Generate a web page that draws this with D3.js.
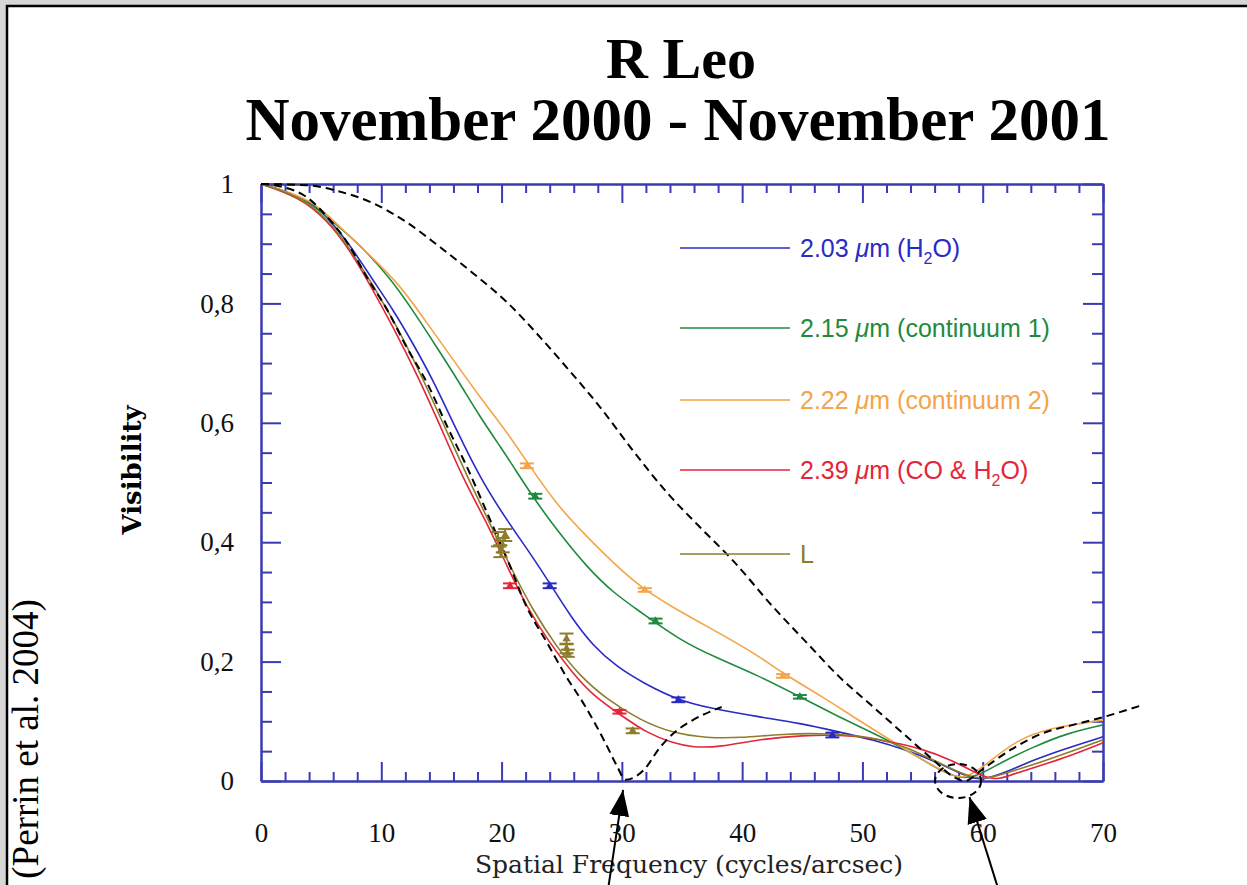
<html>
<head>
<meta charset="utf-8">
<title>R Leo</title>
<style>
body { margin: 0; background: #fff; }
</style>
</head>
<body>
<svg width="1247" height="885"></svg>
<script src="https://d3js.org/d3.v7.min.js" charset="utf-8"></script>
<script>

// ---- data ----
var xTicks = [0, 10, 20, 30, 40, 50, 60, 70];
var yTicks = [0, 0.2, 0.4, 0.6, 0.8, 1];
var yTickLabels = ["0", "0,2", "0,4", "0,6", "0,8", "1"];

var seriesKeys = ["h2o", "cont1", "cont2", "co", "L"];
var seriesLabels = [
    [["2.03 ", ""], ["\u03bc", "i"], ["m (H", ""], ["2", "sub"], ["O)", "up"]],
    [["2.15 ", ""], ["\u03bc", "i"], ["m (continuum 1)", ""]],
    [["2.22 ", ""], ["\u03bc", "i"], ["m (continuum 2)", ""]],
    [["2.39 ", ""], ["\u03bc", "i"], ["m (CO & H", ""], ["2", "sub"], ["O)", "up"]],
    [["L", ""]]
];
var seriesColors = ["#2a2ac4", "#1f8a3e", "#f4a449", "#e3263a", "#8d7d2a"];

// model curves: [spatial frequency, visibility]
var curveH2O = [[0,1],[3.8,0.977],[5.6,0.943],[7.4,0.898],[9.3,0.839],[11,0.789],[12.6,0.734],[14.3,0.672],[16.2,0.59],[18.3,0.504],[20.5,0.435],[22.6,0.375],[24.2,0.325],[25.7,0.277],[27.6,0.226],[29.6,0.191],[31.8,0.164],[34.6,0.136],[37.3,0.122],[41.5,0.107],[44.8,0.097],[48.1,0.082],[50.9,0.069],[53.7,0.052],[56.4,0.03],[58.7,0.007],[59.8,0.002],[60.8,0.007],[62.3,0.018],[64.2,0.035],[67,0.055],[70,0.074]];
var curveCont1 = [[0,1],[3.2,0.982],[5.5,0.945],[8,0.903],[10.7,0.844],[12.6,0.789],[14.6,0.727],[16.5,0.667],[18.2,0.61],[20.1,0.554],[21,0.526],[22.6,0.476],[24.6,0.42],[27.1,0.358],[29.3,0.315],[31.5,0.284],[34.8,0.236],[37.9,0.206],[41.2,0.178],[44.8,0.141],[48.1,0.107],[50.9,0.08],[53.7,0.052],[56.4,0.018],[58.1,0.004],[59.5,0.007],[61.4,0.03],[64.2,0.057],[67,0.08],[70,0.094]];
var curveCont2 = [[0,1],[3.8,0.977],[5.5,0.95],[7.4,0.911],[11.3,0.839],[13.8,0.767],[16,0.705],[18.2,0.643],[20.5,0.583],[22.1,0.535],[24.6,0.462],[27.1,0.409],[29.3,0.365],[31.5,0.325],[34.8,0.284],[37.9,0.25],[41.2,0.212],[43.4,0.18],[46.7,0.141],[49.5,0.104],[52.3,0.069],[55,0.035],[57,0.013],[58.4,0.002],[60,0.023],[62.8,0.069],[65.6,0.089],[70,0.102]];
var curveCO = [[0,1],[3.2,0.978],[5.5,0.94],[7.4,0.889],[9.1,0.83],[11,0.76],[13,0.68],[14.9,0.595],[16.8,0.506],[18.8,0.432],[20.5,0.358],[22.1,0.291],[24,0.231],[25.9,0.181],[27.6,0.143],[29.8,0.112],[32.1,0.08],[34.2,0.064],[35.9,0.056],[38.2,0.057],[41.2,0.069],[44.8,0.077],[49.5,0.077],[52.3,0.065],[54.5,0.057],[57.5,0.035],[60,0.007],[61.2,0.002],[62.3,0.01],[64.2,0.022],[67,0.04],[70,0.064]];
var curveL = [[0,1],[3.2,0.98],[5.5,0.942],[7.4,0.893],[11.1,0.772],[13.5,0.672],[15.5,0.583],[17.4,0.499],[19.3,0.42],[21,0.348],[22.6,0.286],[24.6,0.224],[26.5,0.176],[28.8,0.136],[31.5,0.102],[34.2,0.08],[37.1,0.072],[39.8,0.072],[43.4,0.079],[47,0.08],[50.9,0.074],[53.7,0.057],[56.4,0.03],[58.7,0.008],[60.2,0.003],[61.4,0.01],[64.2,0.027],[67,0.047],[70,0.069]];
var modelCurves = [curveH2O, curveCont1, curveCont2, curveCO, curveL];

// measured points: [spatial frequency, visibility, error]
var pointsH2O = [[24, 0.327, 0.004], [34.7, 0.136, 0.004], [47.5, 0.077, 0.004]];
var pointsCont1 = [[22.8, 0.477, 0.004], [32.8, 0.268, 0.004], [44.8, 0.141, 0.003]];
var pointsCont2 = [[22.1, 0.528, 0.004], [31.9, 0.32, 0.003], [43.4, 0.176, 0.003]];
var pointsCO = [[20.7, 0.327, 0.004], [29.8, 0.116, 0.003]];
var pointsL = [[19.7, 0.405, 0.012], [20.1, 0.395, 0.012], [19.9, 0.385, 0.01], [20.3, 0.412, 0.01],
               [25.4, 0.238, 0.009], [25.4, 0.222, 0.008], [25.5, 0.214, 0.006], [30.9, 0.084, 0.004]];
var measuredPoints = [pointsH2O, pointsCont1, pointsCont2, pointsCO, pointsL];

// uniform disk models (dashed)
var diskWide = [[0,1],[3.8,0.998],[6.6,0.987],[9.3,0.968],[12.1,0.936],[14.9,0.894],[17.6,0.851],[20.5,0.801],[23.4,0.739],[25.4,0.693],[28.2,0.626],[30.9,0.554],[33.8,0.482],[36.5,0.425],[39.2,0.37],[42.6,0.291],[45.4,0.231],[48.1,0.174],[50.9,0.124],[53.7,0.074],[55.9,0.035],[57.5,0.008],[58.5,0],[60,0.02],[62.3,0.052],[65,0.08],[67.5,0.094],[70,0.107],[73.1,0.126]];
var diskNarrow = [[0,1],[1.8,0.995],[3.8,0.978],[5.5,0.945],[7.2,0.901],[8.8,0.844],[10.5,0.789],[12.1,0.727],[13.8,0.667],[15.5,0.593],[17.1,0.527],[18.8,0.449],[20.5,0.37],[22.1,0.291],[23.8,0.231],[25.4,0.174],[26.9,0.127],[28.6,0.065],[29.6,0.025],[30.3,0.002],[31.8,0.018],[33.2,0.057],[34.6,0.085],[35.9,0.102],[38.3,0.124]];

// ---- drawing ----
var svg = d3.select('svg');
var x = d3.scaleLinear().domain([0, 70]).range([261, 1103]);
var y = d3.scaleLinear().domain([0, 1]).range([781, 184]);
var axisColor = '#3a3ab4';

// page frame
svg.append('rect').attr('width', 1247).attr('height', 885).attr('fill', '#d6d6d6');
svg.append('rect').attr('x', 7).attr('y', 6).attr('width', 1240).attr('height', 879).attr('fill', '#fff');
svg.append('path').attr('d', 'M7,885V6H1247').attr('fill', 'none').attr('stroke', '#000').attr('stroke-width', 2.5);

// titles
svg.append('text').attr('x', 681).attr('y', 78).attr('text-anchor', 'middle')
    .attr('font-family', 'Liberation Serif').attr('font-weight', 'bold').attr('font-size', 58)
    .text('R Leo');
svg.append('text').attr('x', 678).attr('y', 140).attr('text-anchor', 'middle')
    .attr('font-family', 'Liberation Serif').attr('font-weight', 'bold').attr('font-size', 61)
    .text('November 2000 - November 2001');

// ticks (inward on all four sides)
var xMinor = d3.range(0, 71, 2).filter(function (d) { return d % 10 !== 0; });
var yMinor = d3.range(0, 1.001, 0.05).filter(function (d) { return Math.abs(d * 5 - Math.round(d * 5)) > 1e-6; });

function drawAxis(axis, tx, ty) {
    var g = svg.append('g').attr('transform', 'translate(' + tx + ',' + ty + ')').call(axis);
    g.selectAll('line, path').attr('stroke', axisColor).attr('stroke-width', 2);
    g.selectAll('text').remove();
    return g;
}
drawAxis(d3.axisBottom(x).tickValues(xTicks).tickSize(-19).tickSizeOuter(0), 0, 781);
drawAxis(d3.axisBottom(x).tickValues(xMinor).tickSize(-9).tickSizeOuter(0), 0, 781);
drawAxis(d3.axisTop(x).tickValues(xTicks).tickSize(-19).tickSizeOuter(0), 0, 184);
drawAxis(d3.axisTop(x).tickValues(xMinor).tickSize(-9).tickSizeOuter(0), 0, 184);
drawAxis(d3.axisLeft(y).tickValues(yTicks).tickSize(-20).tickSizeOuter(0), 261, 0);
drawAxis(d3.axisLeft(y).tickValues(yMinor).tickSize(-11).tickSizeOuter(0), 261, 0);
drawAxis(d3.axisRight(y).tickValues(yTicks).tickSize(-20).tickSizeOuter(0), 1103, 0);
drawAxis(d3.axisRight(y).tickValues(yMinor).tickSize(-11).tickSizeOuter(0), 1103, 0);

// tick labels
var xl = svg.append('g').attr('transform', 'translate(0,781)')
    .call(d3.axisBottom(x).tickValues(xTicks).tickSize(0).tickPadding(42).tickFormat(d3.format('d')));
xl.select('.domain').remove();
xl.selectAll('text').attr('font-family', 'Liberation Serif').attr('font-size', 27).attr('fill', '#111');

var yl = svg.append('g').attr('transform', 'translate(261,0)')
    .call(d3.axisLeft(y).tickValues(yTicks).tickSize(0).tickPadding(27)
        .tickFormat(function (d, i) { return yTickLabels[i]; }));
yl.select('.domain').remove();
yl.selectAll('text').attr('font-family', 'Liberation Serif').attr('font-size', 27).attr('fill', '#111');

// axis titles
svg.append('text').attr('x', 689).attr('y', 873).attr('text-anchor', 'middle')
    .attr('font-family', 'DejaVu Serif').attr('font-size', 25).attr('fill', '#222')
    .text('Spatial Frequency (cycles/arcsec)');
svg.append('text').attr('transform', 'translate(141,470) rotate(-90)').attr('text-anchor', 'middle')
    .attr('font-family', 'DejaVu Serif').attr('font-weight', 'bold').attr('font-size', 26)
    .text('Visibility');
svg.append('text').attr('transform', 'translate(38,739) rotate(-90)').attr('text-anchor', 'middle')
    .attr('font-family', 'Liberation Serif').attr('font-size', 37)
    .text('(Perrin et al. 2004)');

// model curves
var smooth = d3.line()
    .x(function (d) { return x(d[0]); })
    .y(function (d) { return y(d[1]); })
    .curve(d3.curveBasis);
var line = d3.line()
    .x(function (d) { return x(d[0]); })
    .y(function (d) { return y(d[1]); })
    .curve(d3.curveMonotoneX);

modelCurves.forEach(function (c, i) {
    svg.append('path').datum(c).attr('d', smooth)
        .attr('fill', 'none').attr('stroke', seriesColors[i]).attr('stroke-width', 1.6);
});

// dashed uniform disks
[diskWide, diskNarrow].forEach(function (c) {
    svg.append('path').datum(c).attr('d', line)
        .attr('fill', 'none').attr('stroke', '#000').attr('stroke-width', 2)
        .attr('stroke-dasharray', '8,5');
});

// measured points with error bars
measuredPoints.forEach(function (pts, i) {
    var g = svg.append('g').attr('stroke', seriesColors[i]).attr('fill', seriesColors[i]);
    pts.forEach(function (p) {
        var px = x(p[0]), y0 = y(p[1] - p[2]), y1 = y(p[1] + p[2]);
        g.append('line').attr('x1', px).attr('x2', px).attr('y1', y0).attr('y2', y1).attr('stroke-width', 2);
        g.append('line').attr('x1', px - 7).attr('x2', px + 7).attr('y1', y0).attr('y2', y0).attr('stroke-width', 2);
        g.append('line').attr('x1', px - 7).attr('x2', px + 7).attr('y1', y1).attr('y2', y1).attr('stroke-width', 2);
        g.append('path').attr('d', d3.symbol().type(d3.symbolTriangle).size(30)())
            .attr('transform', 'translate(' + px + ',' + y(p[1]) + ')').attr('stroke', 'none');
    });
});

// legend
var legendY = [248, 328, 400, 470, 554];
seriesKeys.forEach(function (k, i) {
    svg.append('line').attr('x1', 680).attr('x2', 790).attr('y1', legendY[i]).attr('y2', legendY[i])
        .attr('stroke', seriesColors[i]).attr('stroke-width', 1.6);
    var t = svg.append('text').attr('x', 800).attr('y', legendY[i] + 9)
        .attr('font-family', 'Liberation Sans').attr('font-size', 25).attr('fill', seriesColors[i]);
    seriesLabels[i].forEach(function (part) {
        var s = t.append('tspan').text(part[0]);
        if (part[1] === 'i') s.attr('font-style', 'italic');
        if (part[1] === 'sub') s.attr('font-size', 16).attr('dy', 7);
        if (part[1] === 'up') s.attr('dy', -7);
    });
});

// annotations: dashed ellipse and arrows
svg.append('ellipse').attr('cx', x(57.95)).attr('cy', y(0)).attr('rx', 23).attr('ry', 17)
    .attr('fill', 'none').attr('stroke', '#000').attr('stroke-width', 2).attr('stroke-dasharray', '7,5');

svg.append('defs').append('marker').attr('id', 'head')
    .attr('markerUnits', 'userSpaceOnUse').attr('markerWidth', 26).attr('markerHeight', 22)
    .attr('viewBox', '0 -11 26 22').attr('refX', 26).attr('refY', 0).attr('orient', 'auto')
    .append('path').attr('d', 'M0,-10L26,0L0,10Z').attr('fill', '#000');

var arrows = [[[28.9, -0.175], [30.1, -0.015]], [[61.2, -0.175], [58.9, -0.027]]];
arrows.forEach(function (a) {
    svg.append('line').attr('x1', x(a[0][0])).attr('y1', y(a[0][1]))
        .attr('x2', x(a[1][0])).attr('y2', y(a[1][1]))
        .attr('stroke', '#000').attr('stroke-width', 2).attr('marker-end', 'url(#head)');
});

</script>
</body>
</html>
